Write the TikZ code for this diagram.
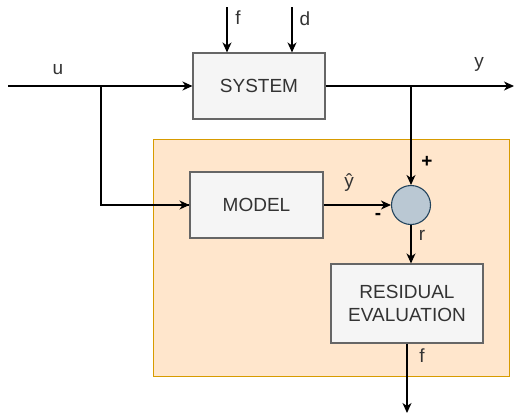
\documentclass[tikz,border=0pt]{standalone}
\usepackage{fontspec}
\setmainfont{Liberation Sans}
\usetikzlibrary{arrows.meta}
\definecolor{boxfill}{HTML}{F5F5F5}
\definecolor{boxdraw}{HTML}{666666}
\definecolor{boxtext}{HTML}{333333}
\definecolor{orfill}{HTML}{FFE6CC}
\definecolor{ordraw}{HTML}{D79B00}
\definecolor{sumfill}{HTML}{BAC8D3}
\definecolor{sumdraw}{HTML}{23445D}
\begin{document}
\begin{tikzpicture}[x=1pt,y=-1pt,
  blk/.style={draw=boxdraw,fill=boxfill,text=boxtext,font=\fontsize{19}{23}\selectfont,align=center,inner sep=0pt,line width=1.1pt},
  lbl/.style={font=\fontsize{19}{23}\selectfont,inner sep=0pt,text=boxtext},
  sgn/.style={font=\bfseries\fontsize{19}{23}\selectfont,inner sep=0pt},
  arr/.style={-{Stealth[length=10pt,width=9pt,inset=3pt]},line width=1.2pt},
  ln/.style={line width=1.2pt}]
\useasboundingbox (0,0) rectangle (514,413);
\fill[orfill,draw=ordraw,line width=1pt] (153,139) rectangle (509,376);
\node[blk,minimum width=132pt,minimum height=66pt] (sys) at (259,86) {SYSTEM};
\node[blk,minimum width=133pt,minimum height=66pt] (mod) at (256.5,205) {MODEL};
\node[blk,minimum width=152pt,minimum height=79pt] (res) at (407,303.5) {RESIDUAL\\EVALUATION};
\node[circle,draw=sumdraw,fill=sumfill,minimum size=39pt,inner sep=0pt,line width=1.1pt] (sum) at (411,205) {};
\coordinate (uin) at (8,86);
\coordinate (ub) at (101,86);
\coordinate (yb) at (411,86);
\coordinate (yout) at (514,86);
\coordinate (fin) at (227,7);
\coordinate (din) at (292,7);
\coordinate (fout) at (407,413);
\draw[arr] (uin) -- (sys.west);
\draw[ln] (ub) |- (mod.west);
\draw[arr] (ub |- mod.west) -- (mod.west);
\draw[arr] (sys.east) -- (yout);
\draw[arr] (yb) -- (sum.north);
\draw[arr] (mod.east) -- (sum.west);
\draw[arr] (sum.south) -- (sum.south |- res.north);
\draw[arr] (res.south) -- (fout);
\draw[arr] (fin) -- (fin |- sys.north);
\draw[arr] (din) -- (din |- sys.north);
\node[lbl] (lu) at (58,70) {u};
\node[lbl] (lf) at (238,18) {f};
\node[lbl] (ld) at (305,19) {d};
\node[lbl] (ly) at (479,64) {y};
\node[lbl] (lyh) at (349,183) {ŷ};
\node[sgn] (lp) at (427,162) {+};
\node[sgn] (lm) at (378,216) {-};
\node[lbl] (lr) at (422,235) {r};
\node[lbl] (lf2) at (422,356) {f};
\end{tikzpicture}
\end{document}
